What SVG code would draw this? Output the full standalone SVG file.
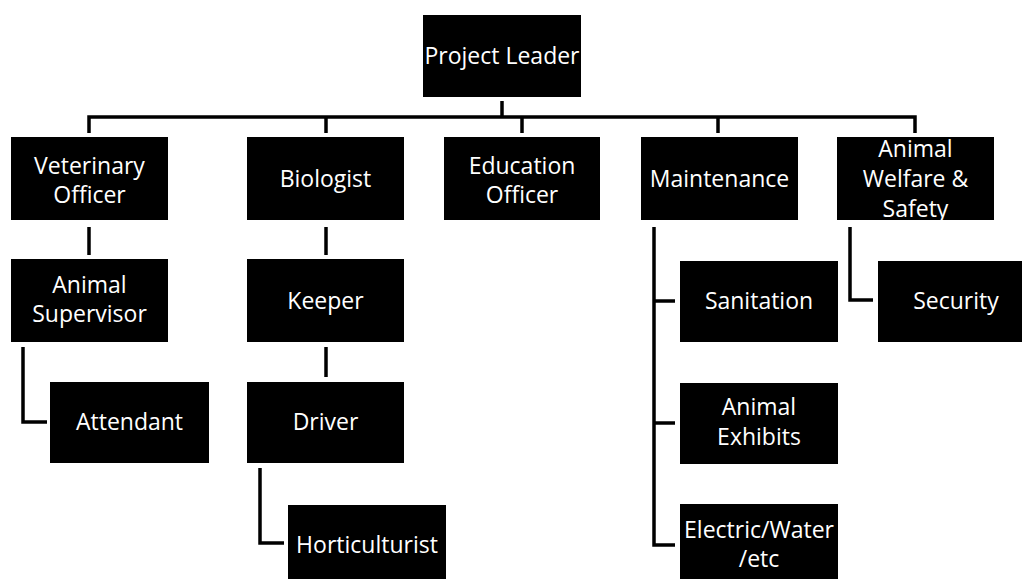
<svg xmlns="http://www.w3.org/2000/svg" width="1022" height="579" viewBox="0 0 1022 579">
<style>
.box{fill:#000}
.lbl{fill:#fff;font-family:"Open Sans","Noto Sans",sans-serif;font-size:23px;text-anchor:middle}
.con{fill:none;stroke:#000;stroke-width:3.5;stroke-linejoin:miter;stroke-linecap:butt}
</style>
<rect width="1022" height="579" fill="#fff"/>
<g id="connectors">
<path class="con" d="M502 101V117"/>
<path class="con" d="M89 133V117H915V133"/>
<path class="con" d="M326 117V133"/>
<path class="con" d="M522 117V133"/>
<path class="con" d="M718 117V133"/>
<path class="con" d="M89 227V255"/>
<path class="con" d="M326 227V255"/>
<path class="con" d="M23 347V422H47"/>
<path class="con" d="M326 347V377"/>
<path class="con" d="M260 468V543H284"/>
<path class="con" d="M654 227V545H675"/>
<path class="con" d="M654 301H675"/>
<path class="con" d="M654 423H675"/>
<path class="con" d="M850 227V300H873"/>
</g>
<g id="project-leader"><rect class="box" x="423" y="15" width="158" height="82"/><text class="lbl" x="502" y="64">Project Leader</text></g>
<g id="veterinary-officer"><rect class="box" x="11" y="137" width="157" height="83"/><text class="lbl" x="89.5" y="174">Veterinary</text><text class="lbl" x="89.5" y="203">Officer</text></g>
<g id="biologist"><rect class="box" x="247" y="137" width="157" height="83"/><text class="lbl" x="325.5" y="187">Biologist</text></g>
<g id="education-officer"><rect class="box" x="444" y="137" width="156" height="83"/><text class="lbl" x="522" y="174">Education</text><text class="lbl" x="522" y="203">Officer</text></g>
<g id="maintenance"><rect class="box" x="641" y="137" width="157" height="83"/><text class="lbl" x="719.5" y="187">Maintenance</text></g>
<g id="animal-welfare-safety"><rect class="box" x="837" y="137" width="157" height="83"/><text class="lbl" x="915.5" y="157">Animal</text><text class="lbl" x="915.5" y="187">Welfare &amp;</text><text class="lbl" x="915.5" y="217">Safety</text></g>
<g id="animal-supervisor"><rect class="box" x="11" y="259" width="157" height="83"/><text class="lbl" x="89.5" y="293">Animal</text><text class="lbl" x="89.5" y="322">Supervisor</text></g>
<g id="keeper"><rect class="box" x="247" y="259" width="157" height="83"/><text class="lbl" x="325.5" y="309">Keeper</text></g>
<g id="attendant"><rect class="box" x="50" y="382" width="159" height="81"/><text class="lbl" x="129.5" y="430">Attendant</text></g>
<g id="driver"><rect class="box" x="247" y="382" width="157" height="81"/><text class="lbl" x="325.5" y="430">Driver</text></g>
<g id="horticulturist"><rect class="box" x="288" y="505" width="158" height="83"/><text class="lbl" x="367" y="553">Horticulturist</text></g>
<g id="sanitation"><rect class="box" x="680" y="261" width="158" height="81"/><text class="lbl" x="759" y="309">Sanitation</text></g>
<g id="security"><rect class="box" x="878" y="261" width="157" height="81"/><text class="lbl" x="956" y="309">Security</text></g>
<g id="animal-exhibits"><rect class="box" x="680" y="383" width="158" height="81"/><text class="lbl" x="759" y="415">Animal</text><text class="lbl" x="759" y="445">Exhibits</text></g>
<g id="electric-water"><rect class="box" x="680" y="504" width="158" height="84"/><text class="lbl" x="759" y="538">Electric/Water</text><text class="lbl" x="759" y="567">/etc</text></g>
</svg>
